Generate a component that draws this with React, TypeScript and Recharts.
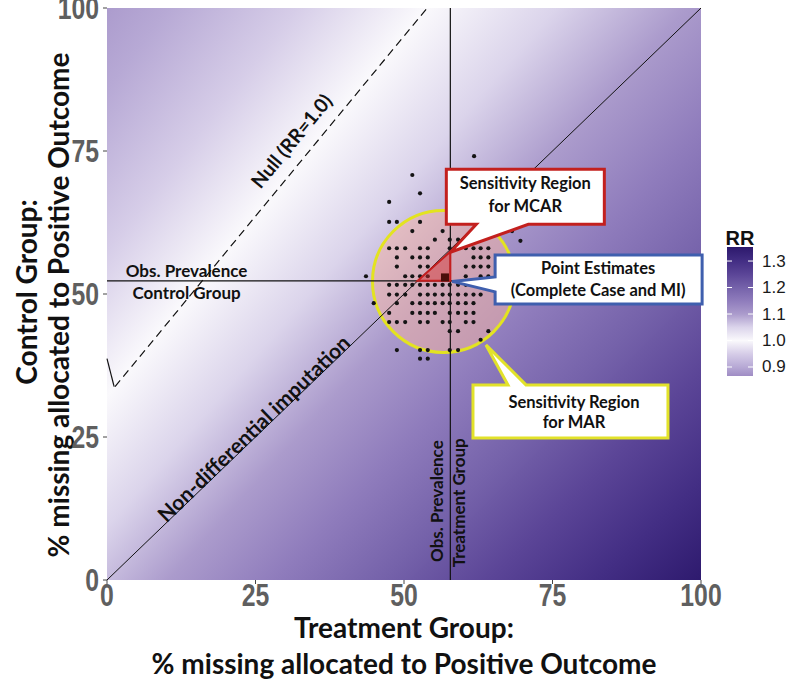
import React from 'react';
import {
  ComposedChart,
  XAxis,
  YAxis,
  Scatter,
  ReferenceLine,
  ReferenceArea,
  ReferenceDot,
  Label,
} from 'recharts';

// ---------- data ----------
const xTicks = [0, 25, 50, 75, 100];
const yTicks = [0, 25, 50, 75, 100];

const obsPrevTreatment = 57.8;
const obsPrevControl = 52.3;

const nullLine = [{ x: 1.35, y: 33.8 }, { x: 53.9, y: 100 }];
const nullStub = [{ x: 0, y: 38.7 }, { x: 1.2, y: 33.8 }];
const diagonal = [{ x: 0, y: 0 }, { x: 100, y: 100 }];

const marCenter = { x: 56.65, y: 52.2 };
const mcarTriangle = { x1: 52.3, x2: 57.8, y1: 52.3, y2: 57.4 };
const pointEstimate = [{ x: 56.9, y: 52.9 }];

const dotRowY = [62.6, 61.0, 59.5, 58.0, 56.4, 54.8, 53.1, 51.6, 49.9, 48.4, 46.7, 45.1, 43.5, 42.0, 40.2, 38.7];
const dotRowX = [
  [47.5, 48.8, 52.7],
  [51.4, 56.5],
  [55.2, 57.7, 59.1],
  [47.5, 48.8, 50.2, 52.7, 54.0, 57.7, 59.1, 60.4, 61.7, 62.9, 64.2],
  [48.8, 51.4, 52.7, 54.0, 61.7, 62.9, 64.2],
  [48.8, 52.7, 54.0, 60.4, 61.7, 62.9, 64.2],
  [50.2, 51.4, 52.7, 54.0, 60.4, 62.9, 64.2],
  [47.5, 48.8, 50.2, 51.4, 52.7, 54.0, 55.2, 56.5, 57.7, 59.1, 60.4, 61.7, 62.9],
  [47.5, 48.8, 50.2, 52.7, 54.0, 55.2, 56.5, 57.7, 59.1, 60.4, 61.7, 62.9],
  [48.8, 51.4, 52.7, 54.0, 55.2, 56.5, 57.7, 59.1, 60.4, 61.7],
  [47.5, 51.4, 52.7, 54.0, 55.2, 57.7, 59.1, 60.4, 61.7],
  [47.5, 48.8, 50.2, 52.7, 54.0, 56.5, 57.7, 60.4, 61.7],
  [57.7, 59.1, 64.2],
  [62.9],
  [48.8, 52.7, 54.0, 57.7, 59.1],
  [52.7, 54.0],
];
const outlierX = [43.6, 44.9, 51.4, 52.7, 47.5, 61.8, 68.2, 69.6];
const outlierY = [53.1, 48.4, 70.8, 67.6, 66.1, 74.1, 61.0, 59.3];

// RR colour field: contour levels, their fan angles (deg) and colours
const rrLevels = [0.85, 0.9, 0.95, 1.0, 1.05, 1.1, 1.15, 1.2, 1.25, 1.3, 1.35, 1.4];
const rrAngles = [35.02, 36.57, 38.06, 39.49, 40.87, 42.2, 43.47, 44.69, 45.85, 46.98, 48.05, 49.09];
const rrColors = ['#9f8cc4', '#b7a9d5', '#d6cde8', '#faf9fc', '#dbd4eb', '#ab9bcc', '#8f7cbc', '#7562aa', '#5b4597', '#432e84', '#2e1a6e', '#26145f'];
const rrFocus = { x: -384, y: -451.7 }; // common point of the RR contours (data units)

const rrLegendTicks = [1.3, 1.2, 1.1, 1.0, 0.9];
const rrLegendRange = [0.866, 1.353];

// callout anchors (pointer tips, data coords)
const mcarTip = { x: 57.8, y: 57.3 };
const peTip = { x: 58.1, y: 52.2 };
const marTip = { x: 63.8, y: 41.1 };

// in-plot label anchors (data coords)
const nullLabelPos = { x: 31.0, y: 76.8 };
const diagLabelPos = { x: 24.6, y: 26.6 };
const ctrlLabelPos = [{ x: 13.4, y: 54.1 }, { x: 13.4, y: 50.3 }];
const trtLabelPos = [{ x: 55.5, y: 13.8 }, { x: 59.1, y: 13.5 }];

// ---------- build ----------
const dots: { x: number; y: number }[] = [];
dotRowY.forEach((y, i) => dotRowX[i].forEach((x) => dots.push({ x, y })));
outlierX.forEach((x, i) => dots.push({ x, y: outlierY[i] }));

// ---------- styles ----------
const TITLE_FONT = "Lato, 'Open Sans', 'DejaVu Sans', sans-serif";
const TICK_FONT = "'Liberation Sans', Arial, sans-serif";

type CalloutSpec = {
  left: number; right: number; top: number; bottom: number;
  side: 'bottom' | 'left' | 'top'; b1: number; b2: number;
  stroke: string; lines: string[]; lineY: number[]; textX: number;
};

const makeCallout = (s: CalloutSpec) => (p: any) => {
  const tx = p.cx, ty = p.cy;
  const L = tx + s.left, R = tx + s.right, T = ty + s.top, B = ty + s.bottom;
  let d = '';
  if (s.side === 'bottom') {
    d = `M${L},${T} H${R} V${B} H${tx + s.b2} L${tx},${ty} L${tx + s.b1},${B} H${L} Z`;
  } else if (s.side === 'left') {
    d = `M${L},${T} H${R} V${B} H${L} V${ty + s.b2} L${tx},${ty} L${L},${ty + s.b1} Z`;
  } else {
    d = `M${L},${T} H${tx + s.b1} L${tx},${ty} L${tx + s.b2},${T} H${R} V${B} H${L} Z`;
  }
  return (
    <g>
      <path d={d} fill="#ffffff" stroke={s.stroke} strokeWidth={3} strokeLinejoin="miter" />
      {s.lines.map((t, i) => (
        <text key={i} x={tx + s.textX} y={ty + s.lineY[i]} textAnchor="middle" dominantBaseline="central"
          fontFamily={TITLE_FONT} fontWeight={700} fontSize={16.5} fill="#111">{t}</text>
      ))}
    </g>
  );
};

const mcarCallout = makeCallout({
  left: -4, right: 154, top: -83, bottom: -28, side: 'bottom', b1: 26, b2: 78,
  stroke: '#c3201e', lines: ['Sensitivity Region', 'for  MCAR'], lineY: [-69, -46], textX: 75,
});
const peCallout = makeCallout({
  left: 43, right: 250, top: -26.5, bottom: 22.5, side: 'left', b1: -4.5, b2: 10.5,
  stroke: '#3f5fae', lines: ['Point Estimates', '(Complete Case and MI)'], lineY: [-13.2, 8.8], textX: 146,
});
const marCallout = makeCallout({
  left: -13, right: 182, top: 40, bottom: 93, side: 'top', b1: 22, b2: 40,
  stroke: '#e2e22a', lines: ['Sensitivity Region', 'for MAR'], lineY: [56.7, 77], textX: 88,
});

const textShape = (t: string, angle: number, size = 17) => (p: any) => (
  <text x={p.cx} y={p.cy} textAnchor="middle" dominantBaseline="central"
    transform={`rotate(${angle}, ${p.cx}, ${p.cy})`}
    fontFamily={TITLE_FONT} fontWeight={700} fontSize={size} fill="#111">{t}</text>
);

const TickX = (p: any) => (
  <g transform={`translate(${p.x},${p.y})`}>
    <text x={0} y={0} dy={20} transform="scale(0.8,1)" textAnchor="middle" fontFamily={TICK_FONT} fontWeight={700}
      fontSize={31} fill="#5f5f5f">{p.payload.value}</text>
  </g>
);
const TickY = (p: any) => (
  <g transform={`translate(${p.x - 2},${p.y})`}>
    <text x={0} y={0} dy={11} transform="scale(0.8,1)" textAnchor="end" fontFamily={TICK_FONT} fontWeight={700}
      fontSize={31} fill="#5f5f5f">{p.payload.value}</text>
  </g>
);

const xTitle = (p: any) => {
  const vb = p.viewBox || { x: 107, y: 580, width: 594, height: 30 };
  const cx = vb.x + vb.width / 2;
  return (
    <g>
      <text x={cx} y={vb.y + 47} textAnchor="middle" dominantBaseline="central" fontFamily={TITLE_FONT}
        fontWeight={700} fontSize={28} fill="#111">Treatment Group:</text>
      <text x={cx} y={vb.y + 83} textAnchor="middle" dominantBaseline="central" fontFamily={TITLE_FONT}
        fontWeight={700} fontSize={28} fill="#111">% missing allocated to Positive Outcome</text>
    </g>
  );
};
const yTitle = (p: any) => {
  const vb = p.viewBox || { x: 47, y: 8, width: 60, height: 572 };
  const cy1 = vb.y + vb.height / 2 - 2;
  const cy2 = vb.y + vb.height / 2 + 11;
  const x1 = vb.x - 21;
  const x2 = vb.x + 11;
  return (
    <g>
      <text x={x1} y={cy1} transform={`rotate(-90, ${x1}, ${cy1})`} textAnchor="middle" dominantBaseline="central"
        fontFamily={TITLE_FONT} fontWeight={700} fontSize={28} fill="#111">Control Group:</text>
      <text x={x2} y={cy2} transform={`rotate(-90, ${x2}, ${cy2})`} textAnchor="middle" dominantBaseline="central"
        fontFamily={TITLE_FONT} fontWeight={700} fontSize={28} fill="#111">% missing allocated to Positive Outcome</text>
    </g>
  );
};

const heatShape = (p: any) => {
  const { x, y, width, height } = p;
  const fx = (rrFocus.x / 100) * width;
  const fy = height * (1 - rrFocus.y / 100);
  const stops = rrColors.map((c, i) => `${c} ${rrAngles[i]}deg`).join(', ');
  return (
    <foreignObject x={x} y={y} width={width} height={height}>
      <div style={{ width, height, background: `conic-gradient(from 0deg at ${fx}px ${fy}px, ${stops})` }} />
    </foreignObject>
  );
};

const Legend = () => {
  const bx = 727, by = 247, bw = 26, bh = 129;
  const span = rrLegendRange[1] - rrLegendRange[0];
  const yOf = (v: number) => by + ((rrLegendRange[1] - v) / span) * bh;
  const stops = rrLevels
    .map((v, i) => ({ o: Math.min(1, Math.max(0, (rrLegendRange[1] - v) / span)), c: rrColors[i], v }))
    .sort((a, b) => a.o - b.o || b.v - a.v);
  return (
    <g>
      <defs>
        <linearGradient id="rrLegendGrad" x1={0} y1={0} x2={0} y2={1}>
          {stops.map((s) => (
            <stop key={s.v} offset={s.o} stopColor={s.c} />
          ))}
        </linearGradient>
      </defs>
      <text x={740} y={238} textAnchor="middle" dominantBaseline="central" fontFamily="'Liberation Sans', Arial, sans-serif"
        fontWeight={700} fontSize={20} fill="#111">RR</text>
      <rect x={bx} y={by} width={bw} height={bh} fill="url(#rrLegendGrad)" />
      {rrLegendTicks.map((v) => (
        <g key={v}>
          <line x1={bx} x2={bx + 5} y1={yOf(v)} y2={yOf(v)} stroke="#ffffff" strokeWidth={1} />
          <line x1={bx + bw - 5} x2={bx + bw} y1={yOf(v)} y2={yOf(v)} stroke="#ffffff" strokeWidth={1} />
          <text x={762} y={yOf(v)} dominantBaseline="central" fontFamily="'Liberation Sans', Arial, sans-serif"
            fontSize={17} fill="#1a1a1a">{v.toFixed(1)}</text>
        </g>
      ))}
    </g>
  );
};

export default function App() {
  return (
    <div style={{ position: 'absolute', left: 0, top: 0, width: 790, height: 679, background: '#ffffff' }}>
      <ComposedChart width={790} height={679} margin={{ top: 8, right: 89, bottom: 69, left: 47 }}>
        <XAxis type="number" dataKey="x" domain={[0, 100]} ticks={xTicks} interval={0} height={30}
          axisLine={false} tickLine={{ stroke: '#444' }} tickSize={4} tick={<TickX />} allowDataOverflow>
          <Label content={xTitle} />
        </XAxis>
        <YAxis type="number" dataKey="y" domain={[0, 100]} ticks={yTicks} interval={0} width={60}
          axisLine={false} tickLine={{ stroke: '#444' }} tickSize={4} tick={<TickY />} allowDataOverflow>
          <Label content={yTitle} />
        </YAxis>

        <ReferenceArea x1={0} x2={100} y1={0} y2={100} shape={heatShape} zIndex={1} />

        <ReferenceDot x={marCenter.x} y={marCenter.y} r={71} fill="#f6b3a2" fillOpacity={0.5}
          stroke="#e3e320" strokeWidth={3} zIndex={2} />

        <ReferenceLine segment={diagonal} stroke="#111" strokeWidth={1} zIndex={3} />
        <ReferenceLine segment={nullLine} stroke="#111" strokeWidth={1.2} strokeDasharray="8 5" zIndex={3} />
        <ReferenceLine segment={nullStub} stroke="#111" strokeWidth={1.2} zIndex={3} />
        <ReferenceLine x={obsPrevTreatment} stroke="#111" strokeWidth={1.2} zIndex={3} />
        <ReferenceLine y={obsPrevControl} stroke="#111" strokeWidth={1.2} zIndex={3} />

        <Scatter data={dots} isAnimationActive={false} zIndex={4}
          shape={(p: any) => <circle cx={p.cx} cy={p.cy} r={2.1} fill="#141414" />} />

        <ReferenceArea x1={mcarTriangle.x1} x2={mcarTriangle.x2} y1={mcarTriangle.y1} y2={mcarTriangle.y2} zIndex={5}
          shape={(p: any) => (
            <path d={`M${p.x},${p.y + p.height} L${p.x + p.width},${p.y + p.height} L${p.x + p.width},${p.y} Z`}
              fill="#d42a2a" fillOpacity={0.45} stroke="#c41e1e" strokeWidth={2} />
          )} />

        <Scatter data={pointEstimate} isAnimationActive={false} zIndex={6}
          shape={(p: any) => <rect x={p.cx - 4} y={p.cy - 4} width={8} height={8} fill="#4a0e0a" />} />

        <ReferenceDot x={mcarTip.x} y={mcarTip.y} r={1} shape={mcarCallout} zIndex={7} />
        <ReferenceDot x={peTip.x} y={peTip.y} r={1} shape={peCallout} zIndex={7} />
        <ReferenceDot x={marTip.x} y={marTip.y} r={1} shape={marCallout} zIndex={7} />

        <ReferenceDot x={nullLabelPos.x} y={nullLabelPos.y} r={1} shape={textShape('Null (RR=1.0)', -50.5, 19.5)} zIndex={8} />
        <ReferenceDot x={diagLabelPos.x} y={diagLabelPos.y} r={1} shape={textShape('Non-differential imputation', -44, 21)} zIndex={8} />
        <ReferenceDot x={ctrlLabelPos[0].x} y={ctrlLabelPos[0].y} r={1} shape={textShape('Obs. Prevalence', 0)} zIndex={8} />
        <ReferenceDot x={ctrlLabelPos[1].x} y={ctrlLabelPos[1].y} r={1} shape={textShape('Control Group', 0)} zIndex={8} />
        <ReferenceDot x={trtLabelPos[0].x} y={trtLabelPos[0].y} r={1} shape={textShape('Obs. Prevalence', -90)} zIndex={8} />
        <ReferenceDot x={trtLabelPos[1].x} y={trtLabelPos[1].y} r={1} shape={textShape('Treatment Group', -90)} zIndex={8} />

        <Legend />
      </ComposedChart>
    </div>
  );
}
